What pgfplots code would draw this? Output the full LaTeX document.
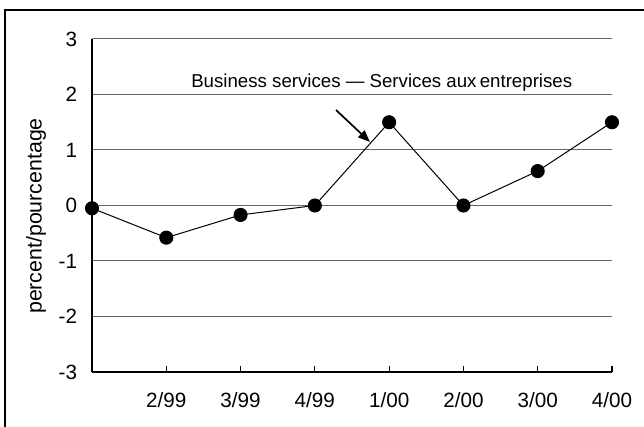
\documentclass[border=0pt]{standalone}
\usepackage{fontspec}
\setmainfont{Liberation Sans}
\usepackage{pgfplots}
\pgfplotsset{compat=1.18}
\usetikzlibrary{arrows.meta}
\begin{document}
\begin{tikzpicture}[x=0.75pt,y=0.75pt]
\useasboundingbox (0,0) rectangle (644,427);
\draw[line width=1.5pt] (5,0) -- (5,417) -- (644,417);
\begin{axis}[
  at={(69pt,41.25pt)}, anchor=south west,
  scale only axis, width=390pt, height=249.75pt,
  xmin=0, xmax=7, ymin=-3, ymax=3,
  clip=false,
  axis lines*=left,
  axis line style={-, line width=1.5pt, black},
  /pgf/number format/assume math mode=true,
  xtick={1,2,3,4,5,6,7},
  xticklabels={2/99,3/99,4/99,1/00,2/00,3/00,4/00},
  ytick={-3,-2,-1,0,1,2,3},
  yticklabels={{-3},{-2},{-1},0,1,2,3},
  tick align=inside,
  major tick length=4.5pt,
  x tick style={black, line width=0.9pt},
  ytick style={draw=none},
  ymajorgrids,
  grid style={draw=gray!80!black, line width=0.75pt},
  xticklabel style={font=\fontsize{15.5}{17}\selectfont, inner sep=0pt, anchor=north, yshift=-15.5pt},
  yticklabel style={font=\fontsize{15.5}{17}\selectfont, inner sep=0pt, anchor=east, xshift=-11pt},
]
\addplot[black, line width=0.75pt, mark=*, mark size=4.9pt, mark options={fill=black}]
  coordinates {(0,-0.05) (1,-0.58) (2,-0.17) (3,0) (4,1.5) (5,0) (6,0.62) (7,1.5)};
\end{axis}
\node[rotate=90, font=\fontsize{16}{18}\selectfont] at (36,211) {percent/pourcentage};
\node[anchor=west, inner sep=0pt, font=\fontsize{14}{16}\selectfont] at (191,344) {Business services \textemdash{} Services aux\kern-0.1em{} entreprises};
\draw[line width=1.3pt, -{Triangle[length=9pt,width=7pt]}] (336,317) -- (370,285);
\end{tikzpicture}
\end{document}
